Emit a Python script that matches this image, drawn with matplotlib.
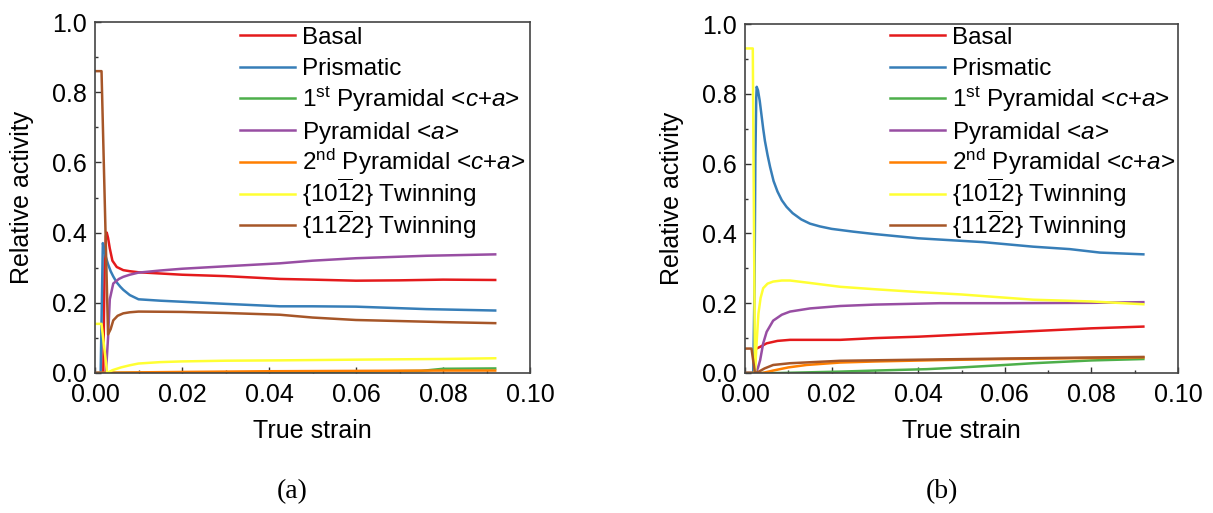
import numpy as np
import matplotlib
matplotlib.use("Agg")
from matplotlib import pyplot as plt

plt.rcParams['font.family'] = ['Liberation Sans', 'DejaVu Sans']
plt.rcParams['mathtext.fontset'] = 'custom'
plt.rcParams['mathtext.rm'] = 'Liberation Sans'
plt.rcParams['mathtext.it'] = 'Liberation Sans:italic'

labels = ["Basal", "Prismatic",
          r"1$^{\mathrm{st}}$ Pyramidal <$\it{c}$+$\it{a}$>",
          r"Pyramidal <$\it{a}$>",
          r"2$^{\mathrm{nd}}$ Pyramidal <$\it{c}$+$\it{a}$>",
          r"{10$\overline{\mathrm{1}}$2} Twinning",
          r"{11$\overline{\mathrm{2}}$2} Twinning"]
colors = ["#e41a1c", "#377eb8", "#4daf4a", "#984ea3", "#ff7f00", "#ffff33", "#a65628"]

# ---- panel (a) ----
basal_a_x = [0, 0.0019, 0.0022, 0.0025, 0.0027, 0.003, 0.0034, 0.004, 0.005, 0.0065, 0.008, 0.01, 0.02, 0.03, 0.0425, 0.05, 0.06, 0.07, 0.08, 0.092]
basal_a_y = [0, 0, 0.30, 0.39, 0.40, 0.385, 0.355, 0.32, 0.302, 0.293, 0.29, 0.287, 0.28, 0.276, 0.268, 0.266, 0.263, 0.264, 0.266, 0.265]
prism_a_x = [0, 0.0013, 0.0018, 0.0021, 0.0025, 0.003, 0.0036, 0.0042, 0.005, 0.0058, 0.0065, 0.008, 0.01, 0.015, 0.02, 0.03, 0.0425, 0.05, 0.06, 0.0762, 0.092]
prism_a_y = [0, 0, 0.37, 0.355, 0.33, 0.31, 0.29, 0.275, 0.258, 0.246, 0.237, 0.222, 0.21, 0.206, 0.203, 0.197, 0.19, 0.19, 0.189, 0.182, 0.178]
pyr1_a_x = [0, 0.04, 0.06, 0.075, 0.08, 0.092]
pyr1_a_y = [0, 0.002, 0.004, 0.006, 0.012, 0.013]
pyra_a_x = [0, 0.0025, 0.003, 0.0034, 0.0042, 0.0055, 0.0065, 0.008, 0.01, 0.015, 0.02, 0.03, 0.0425, 0.05, 0.06, 0.0762, 0.092]
pyra_a_y = [0, 0, 0.10, 0.21, 0.255, 0.268, 0.274, 0.28, 0.286, 0.292, 0.297, 0.304, 0.3125, 0.32, 0.327, 0.334, 0.338]
pyr2_a_x = [0, 0.003, 0.02, 0.04, 0.06, 0.08, 0.092]
pyr2_a_y = [0, 0.001, 0.003, 0.005, 0.006, 0.007, 0.007]
tw1_a_x = [0, 0.0015, 0.0028, 0.004, 0.006, 0.008, 0.01, 0.015, 0.02, 0.03, 0.0425, 0.06, 0.08, 0.092]
tw1_a_y = [0.14, 0.14, 0.0, 0.008, 0.016, 0.022, 0.027, 0.031, 0.033, 0.035, 0.036, 0.038, 0.04, 0.042]
tw2_a_x = [0, 0.0015, 0.003, 0.0036, 0.0042, 0.0052, 0.0065, 0.008, 0.01, 0.02, 0.03, 0.0425, 0.05, 0.06, 0.07, 0.08, 0.092]
tw2_a_y = [0.86, 0.86, 0.11, 0.125, 0.15, 0.163, 0.17, 0.173, 0.175, 0.174, 0.171, 0.166, 0.158, 0.151, 0.148, 0.145, 0.142]

# ---- panel (b) ----
basal_b_x = [0, 0.0021, 0.0023, 0.0035, 0.005, 0.0075, 0.0104, 0.022, 0.03, 0.04, 0.05, 0.0665, 0.08, 0.092]
basal_b_y = [0, 0, 0.068, 0.075, 0.085, 0.092, 0.095, 0.095, 0.1, 0.104, 0.11, 0.12, 0.128, 0.133]
prism_b_x = [0, 0.0019, 0.0022, 0.0024, 0.0026, 0.0027, 0.003, 0.0034, 0.0038, 0.0042, 0.0046, 0.0052, 0.0058, 0.0066, 0.0075, 0.0085, 0.0096,
             0.011, 0.013, 0.015, 0.0173, 0.02, 0.025, 0.03, 0.04, 0.055, 0.0665, 0.075, 0.082, 0.092]
prism_b_y = [0, 0, 0.25, 0.62, 0.79, 0.82, 0.81, 0.78, 0.74, 0.70, 0.665, 0.625, 0.59, 0.55, 0.52, 0.495, 0.476,
             0.458, 0.44, 0.428, 0.42, 0.413, 0.405, 0.398, 0.386, 0.375, 0.362, 0.355, 0.345, 0.34]
pyr1_b_x = [0, 0.008, 0.015, 0.022, 0.03, 0.042, 0.05, 0.06, 0.0665, 0.075, 0.08, 0.092]
pyr1_b_y = [0, 0, 0.002, 0.004, 0.007, 0.011, 0.016, 0.023, 0.028, 0.033, 0.036, 0.04]
pyra_b_x = [0, 0.0025, 0.003, 0.0035, 0.0042, 0.005, 0.0065, 0.0085, 0.0104, 0.015, 0.022, 0.03, 0.045, 0.06, 0.08, 0.092]
pyra_b_y = [0, 0, 0.015, 0.037, 0.085, 0.118, 0.15, 0.167, 0.176, 0.185, 0.192, 0.196, 0.2, 0.2, 0.201, 0.203]
pyr2_b_x = [0, 0.004, 0.0065, 0.01, 0.0142, 0.022, 0.03, 0.045, 0.06, 0.08, 0.092]
pyr2_b_y = [0, 0, 0.007, 0.016, 0.023, 0.03, 0.033, 0.037, 0.04, 0.043, 0.045]
tw1_b_x = [0, 0.0018, 0.0023, 0.0027, 0.0031, 0.0036, 0.0042, 0.0052, 0.0065, 0.0085, 0.0104, 0.015, 0.022, 0.03, 0.04, 0.05, 0.0665, 0.08, 0.092]
tw1_b_y = [0.93, 0.93, 0.0, 0.09, 0.17, 0.215, 0.243, 0.256, 0.262, 0.265, 0.265, 0.258, 0.247, 0.24, 0.232, 0.225, 0.21, 0.205, 0.197]
tw2_b_x = [0, 0.0015, 0.0023, 0.0032, 0.0045, 0.0065, 0.0104, 0.022, 0.045, 0.07, 0.092]
tw2_b_y = [0.07, 0.07, 0, 0.004, 0.013, 0.023, 0.028, 0.035, 0.039, 0.043, 0.046]

series_a = [(basal_a_x, basal_a_y), (prism_a_x, prism_a_y), (pyr1_a_x, pyr1_a_y), (pyra_a_x, pyra_a_y),
            (pyr2_a_x, pyr2_a_y), (tw1_a_x, tw1_a_y), (tw2_a_x, tw2_a_y)]
series_b = [(basal_b_x, basal_b_y), (prism_b_x, prism_b_y), (pyr1_b_x, pyr1_b_y), (pyra_b_x, pyra_b_y),
            (pyr2_b_x, pyr2_b_y), (tw1_b_x, tw1_b_y), (tw2_b_x, tw2_b_y)]

W, H = 1213, 513
fig = plt.figure(figsize=(W / 100, H / 100), dpi=100)


def draw_panel(left, right, top, series, tag):
    bottom = 373
    ax = fig.add_axes([left / W, 1 - bottom / H, (right - left) / W, (bottom - top) / H])
    for (x, y), c in zip(series, colors):
        ax.plot(x, y, color=c, lw=1.8)
    ax.set_xlim(0, 0.10)
    ax.set_ylim(0, 1.0)
    ax.set_xticks(np.arange(0, 0.101, 0.02))
    ax.set_xticks(np.arange(0, 0.101, 0.01), minor=True)
    ax.set_yticks(np.arange(0, 1.01, 0.2))
    ax.set_yticks(np.arange(0, 1.01, 0.1), minor=True)
    ax.xaxis.set_major_formatter(matplotlib.ticker.FormatStrFormatter('%.2f'))
    ax.yaxis.set_major_formatter(matplotlib.ticker.FormatStrFormatter('%.1f'))
    ax.tick_params(which='both', direction='in', top=False, right=False, labelsize=18, color='#333333')
    ax.tick_params(which='major', length=4, width=1)
    ax.tick_params(which='minor', length=2.5, width=1)
    ax.tick_params(axis='y', pad=6)
    ax.tick_params(axis='x', pad=7)
    for s in ax.spines.values():
        s.set_color('#444444')
        s.set_linewidth(1.2)
    ax.set_xlabel("True strain", fontsize=18, labelpad=9)
    ax.set_ylabel("Relative activity", fontsize=18, labelpad=13)

    # legend drawn row by row so that every row has the same height
    pw, ph = right - left, bottom - top
    for i, (c, lab) in enumerate(zip(colors, labels)):
        yc = (bottom - 35 - 31.7 * i) / ph
        ax.plot([145 / pw, 200 / pw], [yc, yc], color=c, lw=1.8, transform=ax.transAxes, clip_on=False)
        ax.text(207 / pw, yc - 8.5 / ph, lab, fontsize=17.5, va='baseline', ha='left', transform=ax.transAxes)

    cx = (left + right) / 2 - 20
    fig.text(cx / W, 1 - 492 / H, tag, ha='center', va='center', fontsize=20, family='Liberation Serif')
    return ax


draw_panel(95, 530, 22, series_a, "(a)")
draw_panel(745, 1178, 24, series_b, "(b)")

fig.savefig("out.png", dpi=100)
